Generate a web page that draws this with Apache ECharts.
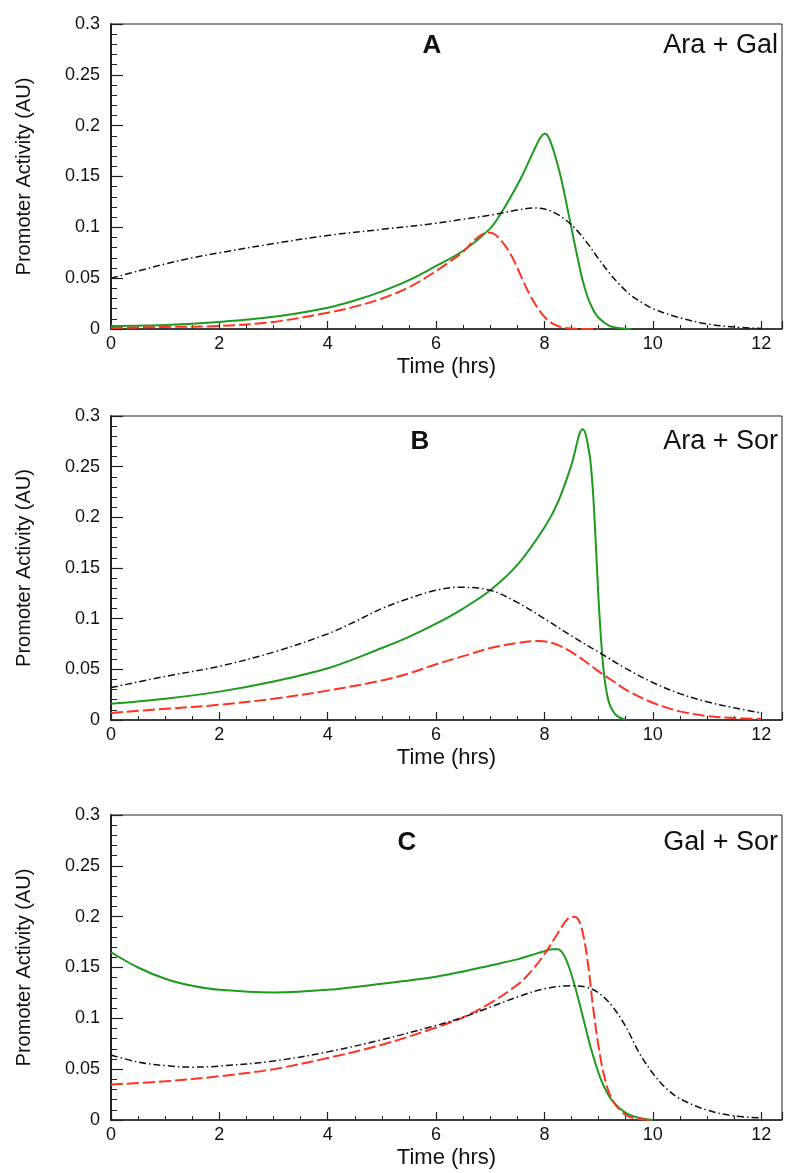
<!DOCTYPE html>
<html><head><meta charset="utf-8">
<script src="https://cdn.jsdelivr.net/npm/echarts@6/dist/echarts.min.js"></script>
<style>html,body{margin:0;padding:0;background:#fff}#c{width:785px;height:1173px}</style>
</head><body><div id="c"></div>
<script>
// ---- data ----
const panelLabels = ['A', 'B', 'C'];
const panelTitles = ['Ara + Gal', 'Ara + Sor', 'Gal + Sor'];
const xTickValues = [0, 2, 4, 6, 8, 10, 12];
const yTickValues = [0, 0.05, 0.1, 0.15, 0.2, 0.25, 0.3];

const greenA = [[0,0.003],[1,0.004],[2,0.007],[3,0.012],[4,0.021],[4.5,0.028],[5,0.037],[5.5,0.048],[6,0.062],[6.5,0.077],[7,0.099],[7.2,0.114],[7.4,0.132],[7.6,0.152],[7.8,0.175],[7.9,0.186],[7.95,0.190],[8.0,0.192],[8.05,0.191],[8.1,0.186],[8.2,0.170],[8.3,0.150],[8.4,0.125],[8.5,0.099],[8.6,0.073],[8.7,0.049],[8.8,0.031],[8.9,0.019],[9.0,0.011],[9.2,0.003],[9.4,0.0008],[9.6,0]];
const redA = [[0,0.001],[1,0.002],[2,0.003],[3,0.007],[4,0.016],[4.5,0.022],[5,0.030],[5.5,0.041],[6,0.057],[6.3,0.068],[6.5,0.076],[6.7,0.087],[6.85,0.093],[6.95,0.095],[7.05,0.094],[7.15,0.090],[7.3,0.080],[7.45,0.066],[7.6,0.048],[7.8,0.027],[8.0,0.012],[8.2,0.004],[8.4,0.001],[8.7,0],[9,0]];
const blackA = [[0,0.050],[0.5,0.057],[1,0.064],[1.5,0.070],[2,0.075],[3,0.084],[4,0.092],[5,0.098],[6,0.104],[6.5,0.108],[7,0.112],[7.5,0.117],[7.8,0.119],[8.0,0.118],[8.2,0.114],[8.4,0.107],[8.6,0.097],[8.8,0.084],[9.0,0.069],[9.2,0.055],[9.4,0.043],[9.6,0.033],[9.8,0.026],[10.0,0.020],[10.5,0.011],[11,0.005],[11.5,0.002],[12,0.0005]];

const greenB = [[0,0.016],[1,0.021],[2,0.028],[3,0.038],[4,0.051],[5,0.071],[5.5,0.082],[6,0.095],[6.5,0.110],[7,0.128],[7.5,0.153],[8,0.190],[8.25,0.215],[8.5,0.252],[8.6,0.273],[8.65,0.283],[8.7,0.287],[8.75,0.284],[8.8,0.272],[8.85,0.255],[8.9,0.222],[8.95,0.172],[9.0,0.118],[9.05,0.076],[9.1,0.045],[9.15,0.027],[9.2,0.016],[9.3,0.006],[9.4,0.002],[9.5,0.0003]];
const redB = [[0,0.007],[1,0.011],[2,0.015],[3,0.021],[4,0.029],[5,0.039],[5.5,0.046],[6,0.055],[6.5,0.063],[7,0.071],[7.5,0.076],[7.9,0.078],[8.2,0.075],[8.5,0.067],[8.8,0.056],[9,0.048],[9.25,0.039],[9.5,0.030],[10,0.017],[10.5,0.0085],[11,0.004],[11.5,0.002],[12,0.001]];
const blackB = [[0,0.032],[1,0.043],[2,0.053],[3,0.067],[4,0.085],[4.5,0.097],[5,0.110],[5.5,0.120],[6,0.128],[6.4,0.131],[7,0.128],[7.5,0.116],[8,0.100],[8.5,0.083],[9,0.067],[9.5,0.051],[10,0.037],[10.5,0.026],[11,0.018],[11.5,0.012],[12,0.007]];

const greenC = [[0,0.165],[0.5,0.150],[1,0.139],[1.5,0.132],[2,0.128],[3,0.1255],[4,0.128],[5,0.134],[6,0.141],[6.5,0.146],[7,0.152],[7.5,0.158],[7.75,0.162],[8.0,0.166],[8.15,0.168],[8.25,0.168],[8.35,0.163],[8.45,0.151],[8.55,0.134],[8.65,0.114],[8.75,0.093],[8.85,0.072],[9.0,0.046],[9.1,0.033],[9.25,0.019],[9.5,0.007],[9.75,0.002],[10,0]];
const redC = [[0,0.035],[1,0.038],[2,0.043],[3,0.050],[4,0.061],[5,0.074],[6,0.091],[6.5,0.101],[7,0.115],[7.5,0.133],[7.75,0.146],[8.0,0.163],[8.25,0.184],[8.4,0.196],[8.5,0.200],[8.6,0.199],[8.7,0.186],[8.8,0.155],[8.9,0.110],[9.0,0.072],[9.1,0.044],[9.25,0.020],[9.5,0.005],[9.75,0.001],[10,0]];
const blackC = [[0,0.064],[0.5,0.057],[1,0.0535],[1.5,0.052],[2,0.053],[3,0.058],[4,0.067],[5,0.079],[6,0.093],[6.5,0.101],[7,0.111],[7.5,0.121],[8,0.129],[8.5,0.132],[8.75,0.131],[9,0.125],[9.25,0.112],[9.5,0.092],[9.75,0.066],[10,0.046],[10.25,0.031],[10.5,0.021],[11,0.0098],[11.5,0.004],[12,0.002]];

const greenSeries = [greenA, greenB, greenC];
const redSeries = [redA, redB, redC];
const blackSeries = [blackA, blackB, blackC];

// ---- layout ----
const FONT = '"Liberation Sans", Arial, Helvetica, sans-serif';
const AX = '#222';
const gridTops = [24, 416, 815];
const gridHeights = [305, 304, 305];
const labelX = [432, 420, 407];
const titleY = [46, 442, 843];
const X_MAX = 12.385;

const grids = [], xAxes = [], yAxes = [], series = [], graphics = [];
for (let p = 0; p < 3; p++) {
  grids.push({left: 111, width: 675, top: gridTops[p], height: gridHeights[p],
    show: true, borderColor: AX, borderWidth: 1, backgroundColor: 'transparent'});
  xAxes.push({type: 'value', gridIndex: p, position: 'bottom', min: 0, max: X_MAX, interval: 2,
    name: 'Time (hrs)', nameLocation: 'middle', nameGap: 27,
    nameTextStyle: {fontFamily: FONT, fontSize: 22, color: '#111'},
    axisLine: {show: true, onZero: false, lineStyle: {color: AX, width: 1.5}},
    axisTick: {show: true, inside: true, length: 8, lineStyle: {color: AX, width: 1.2}},
    axisLabel: {margin: 6, fontFamily: FONT, fontSize: 18, color: '#111',
      formatter: v => xTickValues.indexOf(v) >= 0 ? String(v) : ''},
    splitLine: {show: false}});
  xAxes.push({type: 'value', gridIndex: p, position: 'bottom', offset: 0, min: 0, max: X_MAX, interval: 0.5,
    axisLine: {show: false},
    axisTick: {show: true, inside: true, length: 4, lineStyle: {color: AX, width: 1}},
    axisLabel: {show: false}, splitLine: {show: false}});
  yAxes.push({type: 'value', gridIndex: p, min: 0, max: 0.3, interval: 0.05,
    name: 'Promoter Activity (AU)', nameLocation: 'middle', nameGap: 77,
    nameTextStyle: {fontFamily: FONT, fontSize: 20, color: '#111'},
    axisLine: {show: true, lineStyle: {color: AX, width: 2}},
    axisTick: {show: true, inside: true, length: 12, lineStyle: {color: AX, width: 1.2}},
    minorTick: {show: true, splitNumber: 5, length: 6, lineStyle: {color: AX, width: 1}},
    axisLabel: {margin: 11, fontFamily: FONT, fontSize: 18, color: '#111',
      formatter: v => String(+v.toFixed(2))},
    splitLine: {show: false}, minorSplitLine: {show: false}});
  const xi = p * 2;
  series.push({type: 'line', xAxisIndex: xi, yAxisIndex: p, data: greenSeries[p], showSymbol: false,
    smooth: 0.35, lineStyle: {color: '#1e9a1e', width: 2}, z: 3});
  series.push({type: 'line', xAxisIndex: xi, yAxisIndex: p, data: redSeries[p], showSymbol: false,
    smooth: 0.35, lineStyle: {color: '#ff3322', width: 2, type: [12, 4]}, z: 4});
  series.push({type: 'line', xAxisIndex: xi, yAxisIndex: p, data: blackSeries[p], showSymbol: false,
    smooth: 0.35, lineStyle: {color: '#111', width: 1.5, type: [7, 3, 1.5, 3]}, z: 5});
  graphics.push({type: 'text', x: labelX[p], y: titleY[p],
    style: {text: panelLabels[p], font: 'bold 26px ' + FONT, fill: '#111', textAlign: 'center', textVerticalAlign: 'middle'}});
  graphics.push({type: 'text', x: 778, y: titleY[p],
    style: {text: panelTitles[p], font: '27px ' + FONT, fill: '#111', textAlign: 'right', textVerticalAlign: 'middle'}});
}

const chart = echarts.init(document.getElementById('c'), null, {renderer: 'canvas'});
chart.setOption({
  animation: false,
  backgroundColor: '#fff',
  grid: grids, xAxis: xAxes, yAxis: yAxes, series: series, graphic: graphics
});
</script></body></html>
